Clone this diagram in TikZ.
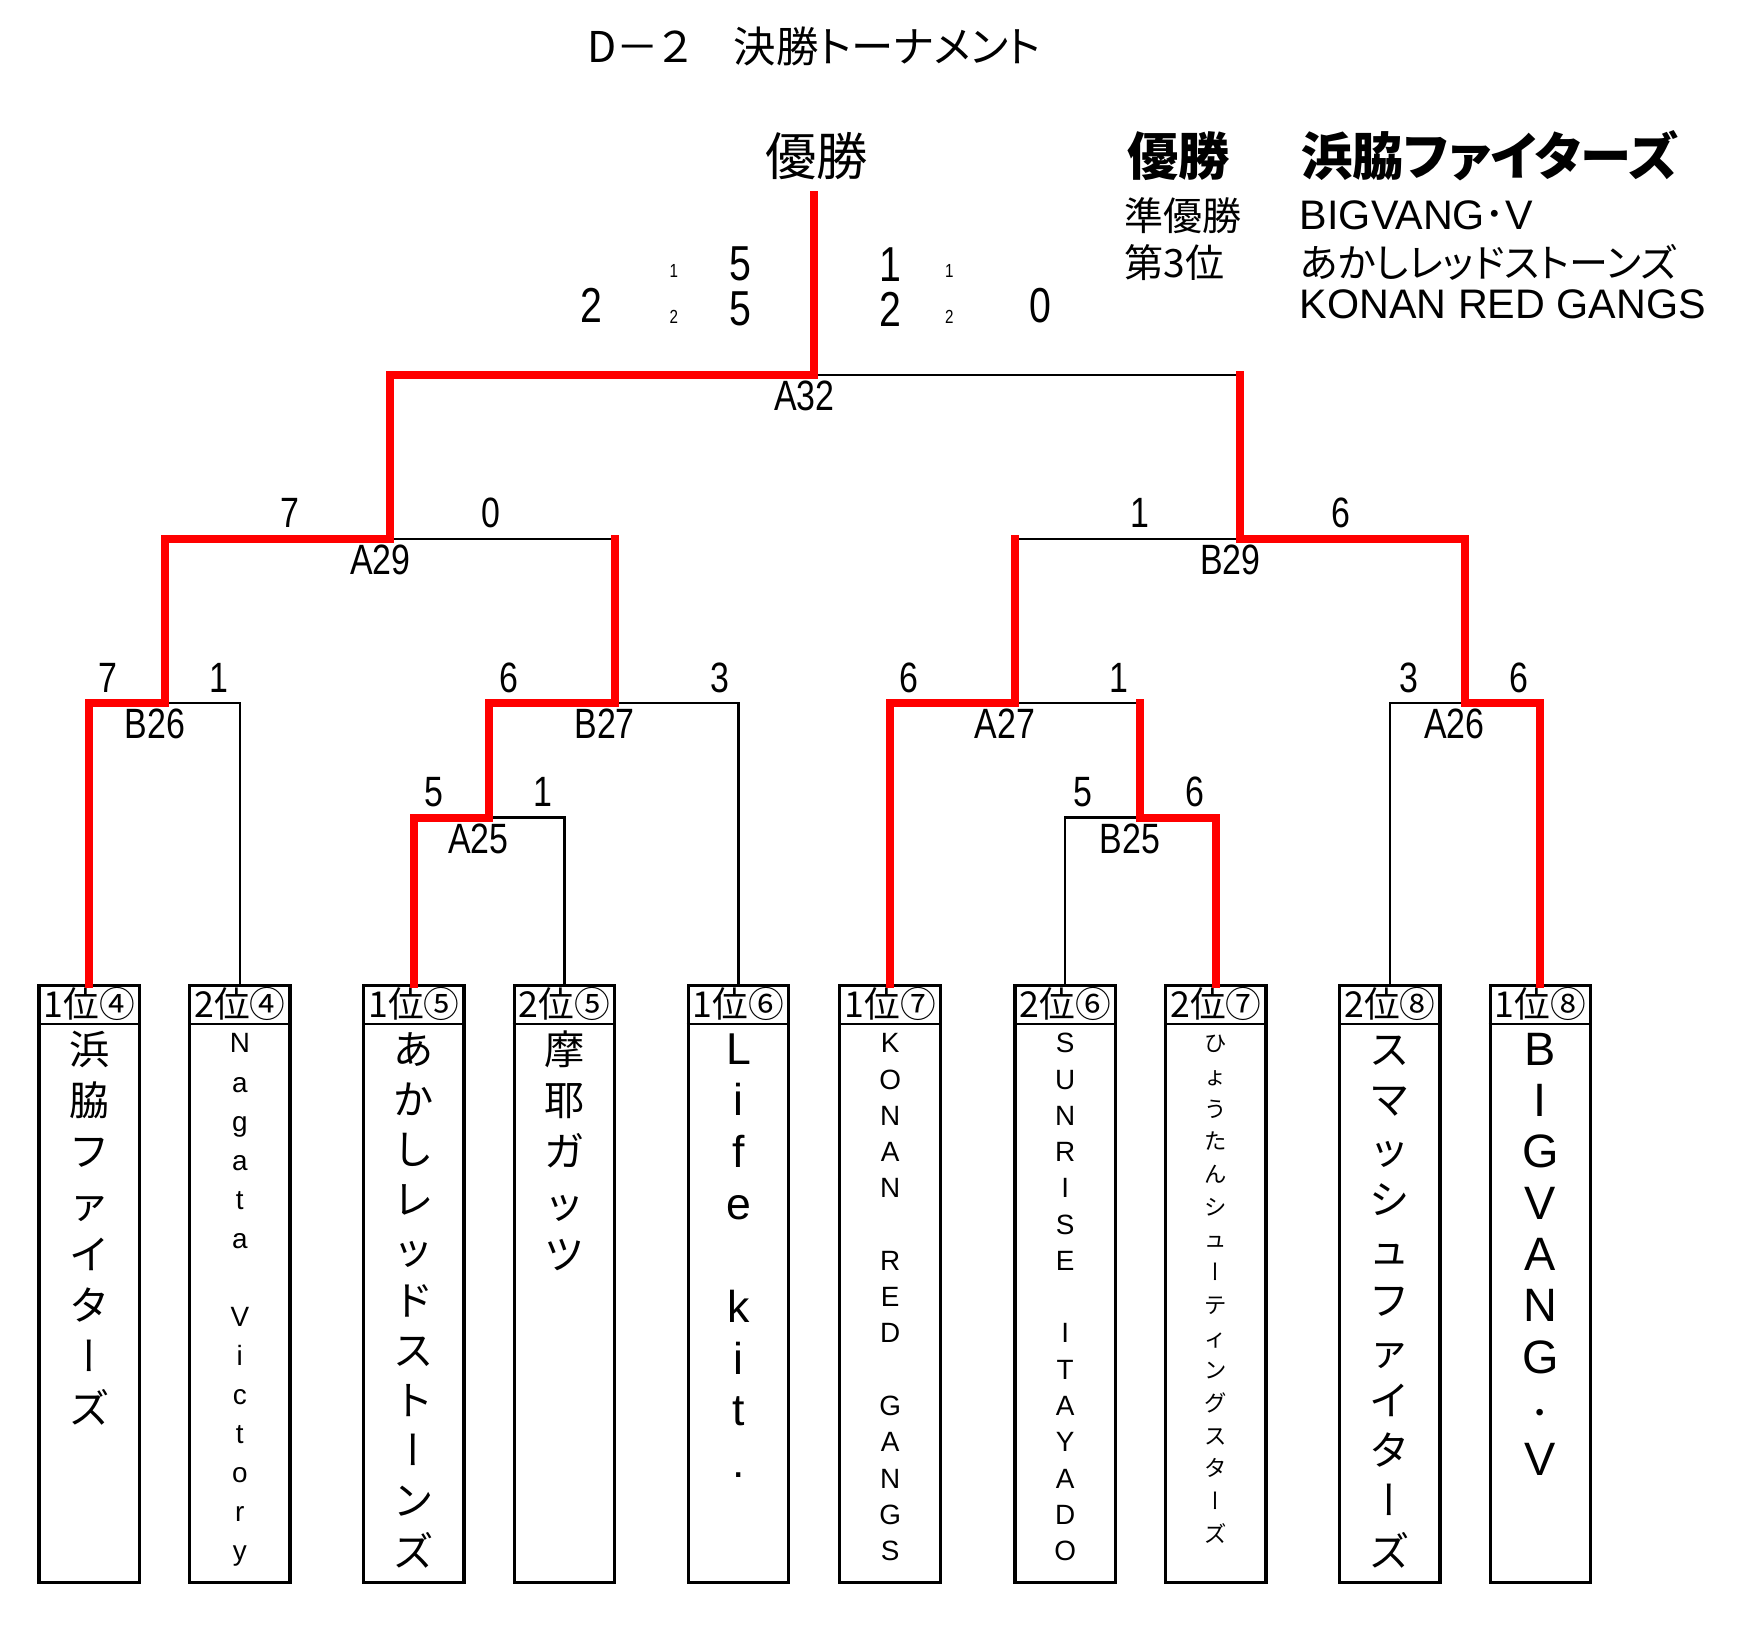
\documentclass[tikz,border=0pt]{standalone}
\usepackage{fontspec}
\setmainfont{Noto Sans CJK JP}
\newfontfamily\jpprop{Noto Sans CJK JP}[RawFeature=+palt]
\newfontfamily\jpvert{Noto Sans CJK JP}[RawFeature=+vert]
\newfontfamily\latfont{Liberation Sans}
\newfontfamily\numfont{Liberation Sans}[FakeStretch=0.8]
\newcommand\vbar{{\jpvert ー}}
\newcommand\fsz[1]{\fontsize{#1}{#1}\selectfont}
\newcommand\teamchars[6]{%
  \foreach \c [count=\k] in {#6}
    \node[ch,font=#5] (#1c\k) at (#2,{#3+(\k-1)*#4}) {\c};%
}
\tikzset{
  win/.style={draw=red,line width=3.6pt,line cap=rect,line join=miter},
  lose/.style={draw=black,line width=1.1pt},
  teambox/.style={draw,line width=1.4pt,anchor=north,minimum width=45pt,minimum height=267.5pt,inner sep=0pt},
  hdr/.style={inner sep=0pt,font=\fsz{16}},
  ch/.style={inner sep=0pt,anchor=base},
  sc/.style={inner sep=0pt,font=\numfont\fsz{19}},
  big/.style={inner sep=0pt,font=\numfont\fsz{22}},
  tiny/.style={inner sep=0pt,font=\numfont\fsz{8.5}},
  lst/.style={inner sep=0pt,anchor=west}
}
\begin{document}
\begin{tikzpicture}[x=0.5pt,y=-0.5pt]
\useasboundingbox (0,0) rectangle (1568,1471);

\node[inner sep=0pt,font=\jpprop\fsz{19}] (title) at (730,42) {D－２\quad 決勝トーナメント};
\node[inner sep=0pt,font=\fsz{23}] (yusho) at (732,140) {優勝};

\node[lst,font=\fsz{23}\bfseries] (r1a) at (1010,140) {優勝};
\node[lst,font=\jpprop\fsz{23}\bfseries] (r1b) at (1166,140) {浜脇ファイターズ};
\node[lst,font=\fsz{17.5}] (r2a) at (1008,193) {準優勝};
\node[lst,font=\latfont\fsz{18.5}] (r2b) at (1165,193) {BIGVANG{\rmfamily ･}V};
\node[lst,font=\fsz{17.5}] (r3a) at (1008,235) {第3位};
\node[lst,font=\jpprop\fsz{17.5}] (r3b) at (1165,235) {あかしレッドストーンズ};
\node[lst,font=\latfont\fsz{18.5}] (r4b) at (1165,273) {KONAN RED GANGS};

\node[big] (fl) at (530,274) {2};
\node[tiny] (fl1) at (604,243) {1};
\node[tiny] (fl2) at (604,284) {2};
\node[big] (fl3) at (664,237) {5};
\node[big] (fl4) at (664,277) {5};
\node[big] (fr3) at (798,237) {1};
\node[big] (fr4) at (798,277) {2};
\node[tiny] (fr1) at (851,243) {1};
\node[tiny] (fr2) at (851,284) {2};
\node[big] (fr) at (933,274) {0};

\coordinate (A25) at (438,733);
\coordinate (B26) at (148,630);
\coordinate (B27) at (551,630);
\coordinate (A29) at (350,483);
\coordinate (B25) at (1022,733);
\coordinate (A27) at (910,630);
\coordinate (A26) at (1313,630);
\coordinate (B29) at (1112,483);
\coordinate (A32) at (730,336);
\coordinate (champ) at (730,175);

\foreach \i/\x/\h in {1/80/1位④,2/215/2位④,3/371/1位⑤,4/506/2位⑤,5/662/1位⑥,
                      6/798/1位⑦,7/955/2位⑥,8/1090/2位⑦,9/1246/2位⑧,10/1381/1位⑧} {
  \node[teambox] (t\i) at (\x,882) {};
  \draw[line width=1.2pt] ([yshift=-18pt]t\i.north west) -- ([yshift=-18pt]t\i.north east);
  \node[hdr] (h\i) at ([yshift=-9pt]t\i.north) {\h};
}

\draw[lose] (B26) -| (t2.north);
\draw[lose] (A25) -| (t4.north);
\draw[lose] (B27) -| (t5.north);
\draw[lose] (A29) -- (A29 -| B27);
\draw[lose] (B25) -| (t7.north);
\draw[lose] (A27) -- (A27 -| B25);
\draw[lose] (A26) -| (t9.north);
\draw[lose] (B29) -- (B29 -| A27);
\draw[lose] (A32) -- (A32 -| B29);

\draw[win] (t1.north) |- (B26);
\draw[win] (B26) |- (A29);
\draw[win] (t3.north) |- (A25);
\draw[win] (A25) |- (B27);
\draw[win] (B27) -- (B27 |- A29);
\draw[win] (A29) |- (A32);
\draw[win] (A32) -- (champ);
\draw[win] (t6.north) |- (A27);
\draw[win] (t8.north) |- (B25);
\draw[win] (B25) -- (B25 |- A27);
\draw[win] (A27) -- (A27 |- B29);
\draw[win] (t10.north) |- (A26);
\draw[win] (A26) |- (B29);
\draw[win] (B29) -- (B29 |- A32);

\foreach \m in {A25,B26,B27,A29,B25,A27,A26,B29,A32}
  \node[sc] (l\m) at ([shift={(-9,19)}]\m) {\m};

\foreach \n/\x/\y/\s in {s1/97/608/7,s2/196/608/1,s3/389/710/5,s4/487/710/1,
                         s5/456/608/6,s6/645/608/3,s7/260/460/7,s8/440/460/0,
                         s9/815/608/6,s10/1003/608/1,s11/971/710/5,s12/1071/710/6,
                         s13/1263/608/3,s14/1362/608/6,s15/1022/460/1,s16/1202/460/6}
  \node[sc] (\n) at (\x,\y) {\s};

\teamchars{t1}{80}{954}{46}{\fsz{18}}{浜,脇,フ,ァ,イ,タ,\vbar,ズ}
\teamchars{t2}{215}{944}{35}{\latfont\fsz{12.5}}{N,a,g,a,t,a,~,V,i,c,t,o,r,y}
\teamchars{t3}{371}{954}{45}{\fsz{18}}{あ,か,し,レ,ッ,ド,ス,ト,\vbar,ン,ズ}
\teamchars{t4}{506}{954}{46}{\fsz{18}}{摩,耶,ガ,ッ,ツ}
\teamchars{t5}{662}{954}{46.3}{\latfont\fsz{20}}{L,i,f,e,~,k,i,t,.}
\teamchars{t6}{798}{944}{32.5}{\latfont\fsz{12.5}}{K,O,N,A,N,~,R,E,D,~,G,A,N,G,S}
\teamchars{t7}{955}{944}{32.5}{\latfont\fsz{12.5}}{S,U,N,R,I,S,E,~,I,T,A,Y,A,D,O}
\teamchars{t8}{1090}{943}{29.3}{\fsz{10}}{ひ,ょ,う,た,ん,シ,ュ,\vbar,テ,ィ,ン,グ,ス,タ,\vbar,ズ}
\teamchars{t9}{1246}{954}{45}{\fsz{18}}{ス,マ,ッ,シ,ュ,フ,ァ,イ,タ,\vbar,ズ}
\teamchars{t10}{1381}{955}{46}{\latfont\fsz{21}}{B,I,G,V,A,N,G,{\rmfamily\fsz{14}・},V}
\end{tikzpicture}
\end{document}
